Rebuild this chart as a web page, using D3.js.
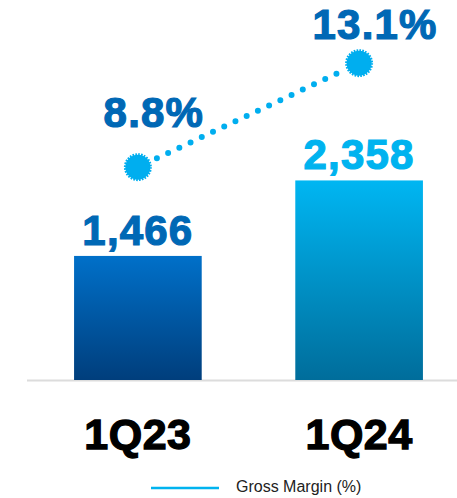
<!DOCTYPE html>
<html><head><meta charset="utf-8">
<script src="https://cdn.jsdelivr.net/npm/d3@7"></script>
<style>
html,body{margin:0;padding:0;background:#fff;}
svg{display:block;font-family:"Liberation Sans",Arial,sans-serif;}
</style></head>
<body>
<svg id="chart" width="457" height="498"></svg>
<script>
const categories = ["1Q23", "1Q24"];
const revenue = [1466, 2358];
const revenueLabels = ["1,466", "2,358"];
const grossMargin = [8.8, 13.1];
const marginLabels = ["8.8%", "13.1%"];
const legendLabel = "Gross Margin (%)";

const svg = d3.select("#chart");
const baseY = 380;

const x = d3.scaleBand().domain(categories).range([7.7, 489.3]).paddingInner(0.423).paddingOuter(0.3);
const y = d3.scaleLinear().domain([0, 4490]).range([baseY, 0]);
const y2 = d3.scaleLinear().domain([0, 15.71]).range([baseY, 0]);

const barTop = ["#0070C9", "#00B6F2"];
const barBot = ["#003E7C", "#006D9B"];
const defs = svg.append("defs");
categories.forEach((c, i) => {
  const g = defs.append("linearGradient").attr("id", "g" + i).attr("x1", 0).attr("y1", 0).attr("x2", 0).attr("y2", 1);
  g.append("stop").attr("offset", "0%").attr("stop-color", barTop[i]);
  g.append("stop").attr("offset", "100%").attr("stop-color", barBot[i]);
});

// baseline
svg.append("line").attr("x1", 27).attr("x2", 457).attr("y1", baseY + 0.5).attr("y2", baseY + 0.5)
  .attr("stroke", "#dcdcdc").attr("stroke-width", 2);

// bars
svg.selectAll("rect.bar").data(revenue).join("rect").attr("class", "bar")
  .attr("x", (d, i) => x(categories[i]))
  .attr("width", x.bandwidth())
  .attr("y", d => y(d))
  .attr("height", d => baseY - y(d))
  .attr("fill", (d, i) => `url(#g${i})`);

// bar labels
const barLabelColor = ["#0068B5", "#00B3EF"];
svg.selectAll("text.bl").data(revenue).join("text").attr("class", "bl")
  .attr("x", (d, i) => x(categories[i]) + x.bandwidth() / 2)
  .attr("y", d => y(d) - 11)
  .attr("text-anchor", "middle")
  .attr("font-size", 42).attr("font-weight", "bold").attr("letter-spacing", 1.2)
  .attr("fill", (d, i) => barLabelColor[i])
  .attr("stroke", (d, i) => barLabelColor[i]).attr("stroke-width", 1.2)
  .text((d, i) => revenueLabels[i]);

// x axis labels
svg.selectAll("text.xl").data(categories).join("text").attr("class", "xl")
  .attr("x", d => x(d) + x.bandwidth() / 2)
  .attr("y", 449)
  .attr("text-anchor", "middle")
  .attr("font-size", 43).attr("font-weight", "bold").attr("letter-spacing", 0.5)
  .attr("fill", "#000").attr("stroke", "#000").attr("stroke-width", 1.3)
  .text(d => d);

// margin line
const pts = grossMargin.map((v, i) => [x(categories[i]) + x.bandwidth() / 2, y2(v)]);
const dx = pts[1][0] - pts[0][0], dy = pts[1][1] - pts[0][1];
const len = Math.hypot(dx, dy);
const ux = dx / len, uy = dy / len;
const gap = 21;
svg.append("line")
  .attr("x1", pts[0][0] + ux * gap).attr("y1", pts[0][1] + uy * gap)
  .attr("x2", pts[1][0] - ux * (gap - 4)).attr("y2", pts[1][1] - uy * (gap - 4))
  .attr("stroke", "#00AEEF").attr("stroke-width", 6).attr("stroke-linecap", "round")
  .attr("stroke-dasharray", "0 12.4");

svg.selectAll("circle.mk").data(pts).join("circle").attr("class", "mk")
  .attr("cx", d => d[0]).attr("cy", d => d[1]).attr("r", 12.5)
  .attr("fill", "#00AEEF").attr("stroke", "#00AEEF").attr("stroke-width", 3)
  .attr("stroke-dasharray", "1.6 1.2");

// margin labels
const labelOff = [40, 24];
svg.selectAll("text.ml").data(grossMargin).join("text").attr("class", "ml")
  .attr("x", (d, i) => pts[i][0] + 16)
  .attr("y", (d, i) => pts[i][1] - labelOff[i])
  .attr("text-anchor", "middle")
  .attr("font-size", 42).attr("font-weight", "bold").attr("letter-spacing", 1.2)
  .attr("fill", "#0068B5").attr("stroke", "#0068B5").attr("stroke-width", 1.2)
  .text((d, i) => marginLabels[i]);

// legend
svg.append("line").attr("x1", 151).attr("x2", 219).attr("y1", 488).attr("y2", 488)
  .attr("stroke", "#00B3EF").attr("stroke-width", 2.5);
svg.append("text").attr("x", 236).attr("y", 491.5)
  .attr("font-size", 16).attr("fill", "#222")
  .text(legendLabel);
</script>
</body></html>
